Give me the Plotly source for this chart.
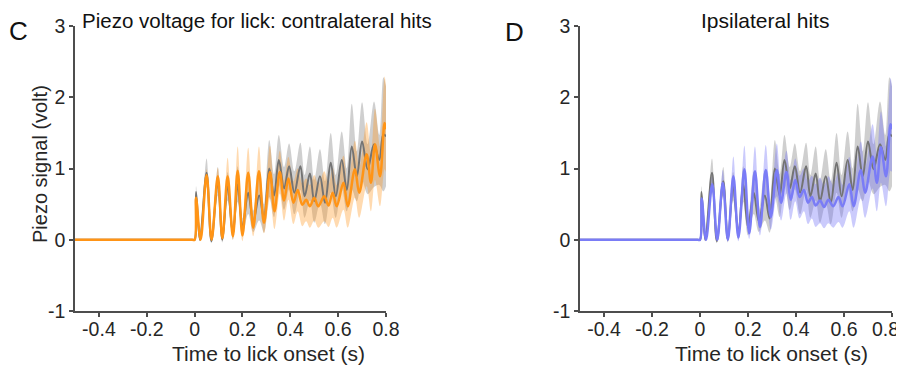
import plotly.graph_objects as go

# ---------------- data ----------------
# control (grey) trace, shared by both panels
t_ctrl = [-0.5, -0.01, 0.0, 0.006, 0.022, 0.05, 0.07, 0.097, 0.116, 0.138, 0.16, 0.18, 0.20, 0.224,
          0.245, 0.27, 0.29, 0.312, 0.332, 0.352, 0.374, 0.395, 0.417, 0.442, 0.46, 0.482, 0.50,
          0.524, 0.545, 0.569, 0.59, 0.615, 0.636, 0.657, 0.678, 0.70, 0.723, 0.75, 0.772, 0.789, 0.8]
y_ctrl = [0, 0, 0, 0.67, 0.0, 0.94, -0.02, 0.82, 0.0, 0.75, 0.08, 0.78, 0.18, 0.66,
          0.26, 0.62, 0.30, 1.0, 0.62, 1.12, 0.72, 1.03, 0.66, 1.03, 0.61, 0.93, 0.54,
          0.89, 0.52, 1.08, 0.61, 1.12, 0.70, 1.31, 0.89, 1.38, 0.99, 1.34, 1.12, 1.48, 1.45]
e_ctrl = [0, 0, 0, 0.08, 0.02, 0.2, 0.03, 0.2, 0.04, 0.2, 0.08, 0.25, 0.12, 0.3,
          0.15, 0.35, 0.2, 0.4, 0.3, 0.35, 0.3, 0.32, 0.3, 0.33, 0.3, 0.38, 0.3,
          0.38, 0.3, 0.42, 0.3, 0.4, 0.3, 0.6, 0.35, 0.55, 0.35, 0.6, 0.35, 0.8, 0.7]

# contralateral hits (orange)
t_contra = [-0.5, -0.01, 0.0, 0.006, 0.025, 0.05, 0.071, 0.097, 0.116, 0.138, 0.16, 0.18, 0.20,
            0.224, 0.245, 0.269, 0.29, 0.315, 0.334, 0.356, 0.374, 0.392, 0.413, 0.431, 0.45,
            0.466, 0.482, 0.50, 0.517, 0.542, 0.56, 0.577, 0.594, 0.622, 0.64, 0.67, 0.688,
            0.719, 0.737, 0.754, 0.775, 0.794, 0.8]
y_contra = [0, 0, 0, 0.59, 0.0, 0.91, 0.0, 0.89, 0.02, 0.89, 0.05, 0.97, 0.06,
            0.94, 0.17, 0.96, 0.24, 0.95, 0.40, 0.95, 0.55, 0.86, 0.52, 0.70, 0.49,
            0.56, 0.47, 0.59, 0.47, 0.61, 0.48, 0.66, 0.47, 0.80, 0.47, 0.99, 0.66,
            1.20, 0.80, 1.34, 0.89, 1.64, 1.55]
e_contra = [0, 0, 0, 0.05, 0.02, 0.08, 0.02, 0.12, 0.03, 0.26, 0.05, 0.34, 0.08,
            0.35, 0.12, 0.35, 0.15, 0.37, 0.25, 0.3, 0.28, 0.3, 0.3, 0.3, 0.3,
            0.3, 0.3, 0.32, 0.3, 0.35, 0.3, 0.35, 0.3, 0.38, 0.3, 0.4, 0.35,
            0.45, 0.4, 0.5, 0.42, 0.65, 0.6]

# ipsilateral hits (blue)
t_ipsi = [-0.5, -0.01, 0.0, 0.007, 0.025, 0.051, 0.072, 0.095, 0.116, 0.139, 0.16, 0.185, 0.205,
          0.229, 0.25, 0.274, 0.295, 0.32, 0.338, 0.36, 0.378, 0.397, 0.415, 0.433, 0.45,
          0.466, 0.482, 0.50, 0.517, 0.535, 0.555, 0.577, 0.594, 0.622, 0.64, 0.67, 0.688,
          0.719, 0.737, 0.754, 0.775, 0.794, 0.8]
y_ipsi = [0, 0, 0, 0.58, 0.0, 0.78, 0.0, 0.80, 0.0, 0.89, 0.03, 0.99, 0.09,
          0.96, 0.18, 0.98, 0.32, 0.98, 0.52, 0.95, 0.56, 0.84, 0.60, 0.70, 0.52,
          0.60, 0.48, 0.55, 0.46, 0.56, 0.47, 0.60, 0.47, 0.78, 0.47, 0.98, 0.66,
          1.17, 0.80, 1.30, 0.89, 1.62, 1.55]
e_ipsi = [0, 0, 0, 0.06, 0.02, 0.12, 0.02, 0.18, 0.03, 0.28, 0.05, 0.33, 0.08,
          0.35, 0.12, 0.35, 0.18, 0.37, 0.25, 0.3, 0.28, 0.3, 0.3, 0.3, 0.3,
          0.3, 0.3, 0.32, 0.3, 0.33, 0.3, 0.35, 0.3, 0.38, 0.3, 0.4, 0.35,
          0.45, 0.4, 0.5, 0.42, 0.65, 0.6]

x_ticks = [-0.4, -0.2, 0, 0.2, 0.4, 0.6, 0.8]
x_ticklabels = ["-0.4", "-0.2", "0", "0.2", "0.4", "0.6", "0.8"]
y_ticks = [-1, 0, 1, 2, 3]
y_ticklabels = ["-1", "0", "1", "2", "3"]

# ---------------- styling ----------------
# the page body has an 8px default margin, so the figure is 8px smaller and
# every window-pixel position below is shifted by that offset
OFF = 8
W, H = 904 - OFF, 368 - OFF
FONT = "Arial, Liberation Sans, sans-serif"
TICK_FONT = dict(family=FONT, size=19.5, color="#262626")
GREY_LINE = "#737373"
GREY_BAND = "rgba(128,128,128,0.38)"
ORANGE_LINE = "#FF9416"
ORANGE_BAND = "rgba(255,150,30,0.35)"
BLUE_LINE = "#7A7CF6"
BLUE_BAND = "rgba(105,105,245,0.35)"


def fx(px):
    return (px - OFF) / W


def fy(py):
    return 1 - (py - OFF) / H


fig = go.Figure()


def add_series(t, y, e, band_col, xa, ya):
    lo = [a - b for a, b in zip(y, e)]
    hi = [a + b for a, b in zip(y, e)]
    fig.add_trace(go.Scatter(x=t, y=lo, mode="lines", line=dict(width=0, shape="spline", color=band_col),
                             xaxis=xa, yaxis=ya, showlegend=False, hoverinfo="skip"))
    fig.add_trace(go.Scatter(x=t, y=hi, mode="lines", line=dict(width=0, shape="spline", color=band_col),
                             fill="tonexty", fillcolor=band_col,
                             xaxis=xa, yaxis=ya, showlegend=False, hoverinfo="skip"))


def add_line(t, y, col, xa, ya, width):
    fig.add_trace(go.Scatter(x=t, y=y, mode="lines", line=dict(width=width, shape="spline", color=col),
                             xaxis=xa, yaxis=ya, showlegend=False))


# left panel
add_series(t_ctrl, y_ctrl, e_ctrl, GREY_BAND, "x", "y")
add_series(t_contra, y_contra, e_contra, ORANGE_BAND, "x", "y")
add_line(t_ctrl, y_ctrl, GREY_LINE, "x", "y", 2)
add_line(t_contra, y_contra, ORANGE_LINE, "x", "y", 2.5)
# right panel
add_series(t_ctrl, y_ctrl, e_ctrl, GREY_BAND, "x2", "y2")
add_series(t_ipsi, y_ipsi, e_ipsi, BLUE_BAND, "x2", "y2")
add_line(t_ctrl, y_ctrl, GREY_LINE, "x2", "y2", 2)
add_line(t_ipsi, y_ipsi, BLUE_LINE, "x2", "y2", 2.5)

axis_common = dict(showline=True, linecolor="#4d4d4d", linewidth=1.5, ticks="outside", ticklen=4,
                   tickwidth=1.5, tickcolor="#4d4d4d", showgrid=False, zeroline=False,
                   automargin=False, ticklabeloverflow="allow", tickfont=TICK_FONT)

ydom = [fy(311), fy(26)]

# right panel: the last tick label sits at the window edge, so it is drawn
# separately (slightly inset) below
x2_ticklabels = x_ticklabels[:-1] + [""]

fig.update_layout(
    width=W, height=H, autosize=False,
    margin=dict(l=0, r=0, t=0, b=0, autoexpand=False),
    paper_bgcolor="white", plot_bgcolor="white",
    xaxis=dict(domain=[fx(75), fx(386)], range=[-0.5, 0.8], tickvals=x_ticks, ticktext=x_ticklabels,
               anchor="y", ticklabelstandoff=-4, **axis_common),
    yaxis=dict(domain=ydom, range=[-1, 3], tickvals=y_ticks, ticktext=y_ticklabels,
               anchor="x", **axis_common),
    xaxis2=dict(domain=[fx(580), fx(892)], range=[-0.5, 0.8], tickvals=x_ticks, ticktext=x2_ticklabels,
                anchor="y2", ticklabelstandoff=-4, **axis_common),
    yaxis2=dict(domain=ydom, range=[-1, 3], tickvals=y_ticks, ticktext=y_ticklabels,
                anchor="x2", **axis_common),
)

fig.add_annotation(text=x_ticklabels[-1], x=x_ticks[-1], xref="x2", y=fy(329), yref="paper",
                   xanchor="center", yanchor="middle", xshift=-7, showarrow=False, font=TICK_FONT)


def ann(text, px, py, size, xanchor="center", angle=0, color="#1a1a1a"):
    fig.add_annotation(text=text, x=fx(px), y=fy(py), xref="paper", yref="paper",
                       xanchor=xanchor, yanchor="middle", showarrow=False, textangle=angle,
                       font=dict(family=FONT, size=size, color=color))


ann("Piezo voltage for lick: contralateral hits", 80, 21, 20.5, xanchor="left", color="#111111")
ann("Ipsilateral hits", 765, 21, 21, color="#111111")
ann("C", 18, 31, 26, color="#111111")
ann("D", 514, 32, 26, color="#111111")
ann("Time to lick onset (s)", 268, 353, 21, color="#262626")
ann("Time to lick onset (s)", 771, 353, 21, color="#262626")
ann("Piezo signal (volt)", 40, 164, 20, angle=-90, color="#262626")

fig.write_html("out.html")
